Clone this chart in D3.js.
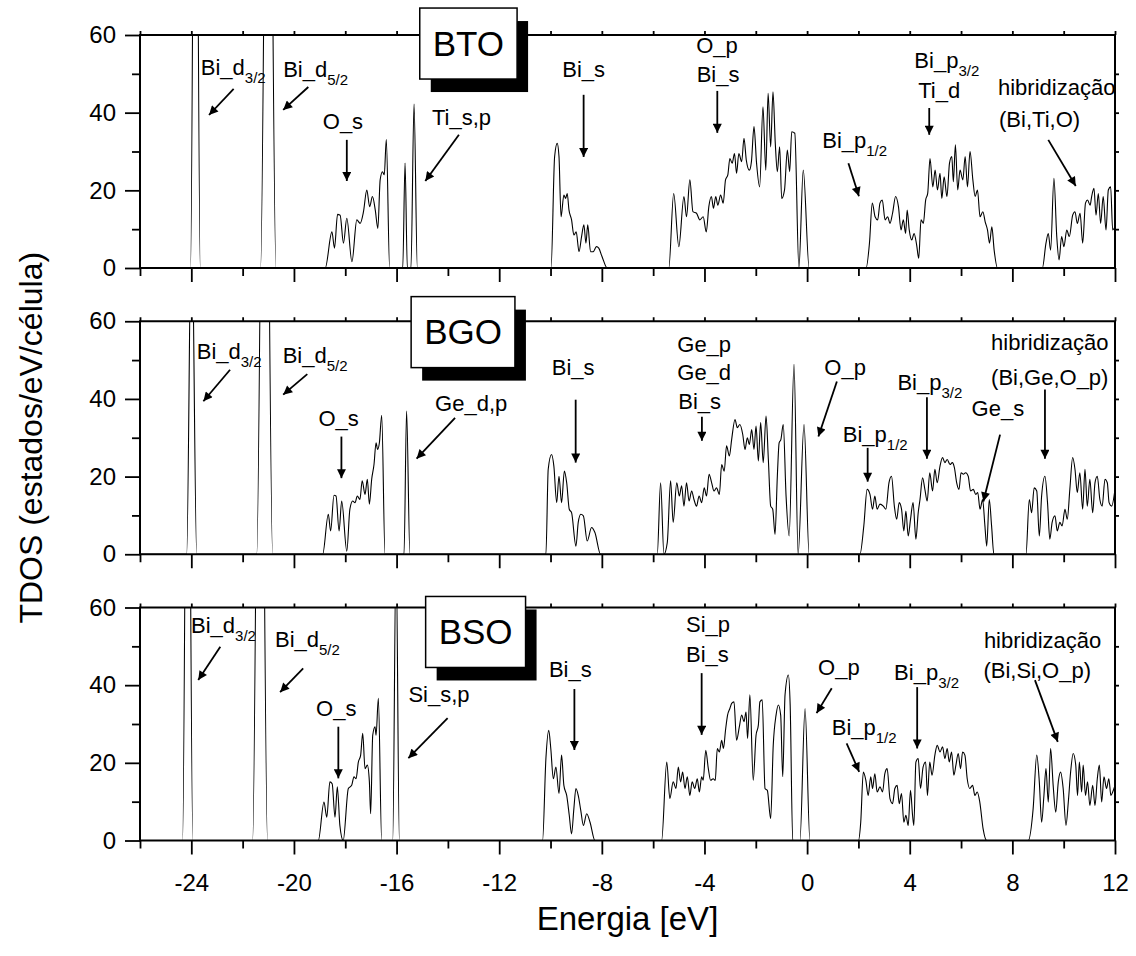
<!DOCTYPE html>
<html>
<head>
<meta charset="utf-8">
<script src="https://cdn.jsdelivr.net/npm/d3@7"></script>
<style>
  body { margin: 0; background: #fff; }
  text { font-family: "Liberation Sans", Arial, sans-serif; fill: #000; }
</style>
</head>
<body>
<div id="chart"></div>
<script>
// energia (eV), TDOS (estados/eV/célula)
const panelNames = ["BTO", "BGO", "BSO"];

const btoTDOS = [
  [-26,0],
  [-24.03,0],[-23.84,170],[-23.65,0],
  [-21.30,0],[-21.0,180],[-20.70,0],
  [-18.78,0],[-18.52,9.3],[-18.42,5.1],[-18.30,13.8],[-18.20,13.6],[-18.07,6.4],[-17.94,12.8],[-17.74,1.6],[-17.55,12.4],[-17.42,11.5],[-17.29,14.5],[-17.16,20.1],[-17.05,15.8],[-16.94,18.4],[-16.83,14.9],[-16.73,10.2],[-16.64,22.7],[-16.55,24.8],[-16.48,24],[-16.40,33.1],[-16.27,0],
  [-15.76,0],[-15.67,27],[-15.58,0],[-15.44,0],[-15.32,42.2],[-15.19,0],
  [-9.98,0],[-9.84,28.7],[-9.74,32.1],[-9.67,28.7],[-9.59,13.2],[-9.48,18.8],[-9.41,17.9],[-9.35,19.2],[-9.28,14.9],[-9.18,12.4],[-9.09,8.5],[-9.00,9.3],[-8.89,4.2],[-8.79,8.1],[-8.70,11.1],[-8.62,6.4],[-8.55,11.1],[-8.44,4.2],[-8.34,4.2],[-8.21,5.5],[-8.12,5.1],[-7.99,2.9],[-7.79,0],
  [-5.39,0],[-5.20,19.2],[-5.00,5.5],[-4.80,18.4],[-4.70,13.2],[-4.57,22.7],[-4.45,14.5],[-4.31,14.1],[-4.18,12.4],[-4.05,13.2],[-3.93,9.3],[-3.83,15.8],[-3.73,18.4],[-3.65,15.4],[-3.56,18.4],[-3.48,16.2],[-3.37,18.8],[-3.27,16.7],[-3.18,22.7],[-3.09,24],[-3.01,28.2],[-2.92,27],[-2.83,29.5],[-2.75,24.4],[-2.66,29.5],[-2.55,27.4],[-2.46,33.4],[-2.37,27.8],[-2.25,25.2],[-2.17,27.4],[-2.07,36.4],[-1.97,27],[-1.85,20.9],[-1.72,41.5],[-1.61,25.2],[-1.52,45],[-1.42,31.2],[-1.33,45.4],[-1.24,32.1],[-1.16,24.8],[-1.07,31.2],[-0.99,17.9],[-0.88,20.1],[-0.77,30.4],[-0.68,24.8],[-0.60,35.1],[-0.48,34.7],[-0.32,0],[-0.15,25.2],[0.08,0],
  [2.30,0],[2.43,6.4],[2.54,16.7],[2.65,13.2],[2.75,12.4],[2.84,16.7],[2.93,17.5],[3.04,12.4],[3.14,13.2],[3.23,11.5],[3.33,14.1],[3.45,18.4],[3.56,15.8],[3.66,9.8],[3.75,12.4],[3.84,8.9],[3.90,14.9],[3.98,9.8],[4.08,7.2],[4.17,8.9],[4.27,5.9],[4.35,2.5],[4.44,12.4],[4.53,11.5],[4.62,17.5],[4.70,19.2],[4.79,28.2],[4.90,20.9],[4.99,25.2],[5.08,20.1],[5.18,24.4],[5.25,17.9],[5.34,23.5],[5.45,18.4],[5.55,27],[5.64,28.7],[5.70,22.2],[5.78,31.7],[5.87,20.1],[5.96,25.2],[6.07,22.7],[6.16,28.7],[6.25,20.9],[6.35,30],[6.46,22.7],[6.55,18.4],[6.64,20.1],[6.74,13.2],[6.85,14.5],[6.94,11.9],[7.03,9.8],[7.11,6.4],[7.20,10.6],[7.29,4.6],[7.42,0],
  [9.17,0],[9.31,6.4],[9.40,8.9],[9.49,4.6],[9.62,23.1],[9.73,8.1],[9.82,2.1],[9.92,8.1],[10.01,5.5],[10.12,9.8],[10.22,8.1],[10.35,13.6],[10.44,14.5],[10.53,11.5],[10.64,14.1],[10.74,6.4],[10.85,16.7],[10.93,17.5],[11.03,16.2],[11.09,18.4],[11.18,20.5],[11.26,13.6],[11.35,19.2],[11.44,11.5],[11.54,18.4],[11.65,9.8],[11.74,20.1],[11.83,20.9],[11.91,9.8],[12.0,10.6]
];

const bgoTDOS = [
  [-26,0],
  [-24.18,0],[-23.99,90],[-23.79,0],
  [-21.45,0],[-21.14,180],[-20.83,0],
  [-18.88,0],[-18.66,10.3],[-18.57,6],[-18.44,15.2],[-18.36,15],[-18.24,6],[-18.14,13.7],[-17.94,0.8],[-17.82,11.6],[-17.71,13.7],[-17.62,13.3],[-17.53,15],[-17.43,14.1],[-17.34,18.9],[-17.23,15.4],[-17.14,19.3],[-17.06,12.9],[-16.97,19.3],[-16.88,23.1],[-16.80,28.7],[-16.74,27],[-16.67,28.7],[-16.58,35.8],[-16.45,0],
  [-15.71,0],[-15.61,36.9],[-15.48,0],
  [-10.18,0],[-10.09,21.9],[-9.96,25.7],[-9.87,22.7],[-9.76,13.3],[-9.67,20.1],[-9.57,13.3],[-9.46,21.4],[-9.37,18.4],[-9.27,11.6],[-9.18,10.7],[-9.01,2.1],[-8.92,8.2],[-8.82,10.3],[-8.72,9.9],[-8.57,3.4],[-8.40,6.9],[-8.27,5.6],[-8.05,0],
  [-5.84,0],[-5.71,18.4],[-5.58,0],[-5.45,3],[-5.32,18.9],[-5.22,8.2],[-5.08,18.4],[-4.98,15],[-4.89,17.6],[-4.80,12.4],[-4.70,18.4],[-4.60,13.7],[-4.50,16.3],[-4.41,14.1],[-4.31,12.4],[-4.21,15],[-4.11,13.3],[-4.01,17.1],[-3.92,15],[-3.82,20.6],[-3.72,18.4],[-3.63,16.3],[-3.53,17.1],[-3.42,15.4],[-3.33,23.1],[-3.23,21.4],[-3.14,27.9],[-3.03,25.3],[-2.94,29.6],[-2.81,34.7],[-2.72,32.6],[-2.62,33.4],[-2.51,30.9],[-2.42,27],[-2.33,30],[-2.25,28.3],[-2.16,32.1],[-2.07,27],[-1.99,33],[-1.90,24],[-1.81,33.9],[-1.71,23.6],[-1.60,35.6],[-1.51,24.4],[-1.42,12.4],[-1.34,11.6],[-1.25,5.1],[-1.16,20.1],[-1.09,28.7],[-1.02,29.6],[-0.93,33.4],[-0.82,15],[-0.70,4.7],[-0.51,48.9],[-0.35,0],[-0.12,33.4],[0.08,0],
  [2.06,0],[2.21,7.3],[2.34,16.7],[2.45,15.4],[2.55,11.6],[2.64,15],[2.73,11.6],[2.84,12.9],[2.97,12.4],[3.07,11.6],[3.19,18.4],[3.29,20.1],[3.40,12.4],[3.49,9],[3.59,13.3],[3.68,11.6],[3.77,6],[3.85,11.1],[3.94,4.7],[4.03,9],[4.13,13.3],[4.24,3.9],[4.33,10.7],[4.40,14.1],[4.50,19.7],[4.59,16.7],[4.68,13.7],[4.78,21],[4.89,16.3],[4.98,21.9],[5.07,18.4],[5.18,22.7],[5.28,24.9],[5.37,23.6],[5.46,24.4],[5.57,23.1],[5.66,23.6],[5.74,22.3],[5.83,18.4],[5.92,16.7],[6.00,21],[6.09,20.6],[6.18,21],[6.28,20.1],[6.37,16.3],[6.48,16.7],[6.57,15.4],[6.65,15.9],[6.74,11.6],[6.84,14.1],[6.93,7.3],[7.00,2.1],[7.10,14.1],[7.19,7.3],[7.28,0],
  [8.53,0],[8.66,14.1],[8.75,10.7],[8.85,17.1],[8.95,16.3],[9.05,4.7],[9.14,15],[9.27,20.1],[9.37,13.3],[9.46,3.9],[9.55,8.2],[9.66,9.9],[9.75,6],[9.85,8.2],[9.94,7.3],[10.05,11.6],[10.14,9],[10.24,16.7],[10.35,24.9],[10.44,21.9],[10.53,15.9],[10.63,21],[10.74,11.6],[10.83,21.9],[10.92,12.4],[11.02,19.3],[11.13,10.7],[11.22,18.4],[11.31,20.1],[11.41,14.1],[11.50,12.4],[11.61,19.3],[11.70,18.4],[11.77,13.3],[11.87,12.4],[12.0,16.7]
];

const bsoTDOS = [
  [-26,0],
  [-24.34,0],[-24.14,160],[-23.94,0],
  [-21.61,0],[-21.32,180],[-21.03,0],
  [-19.05,0],[-18.83,9.9],[-18.72,6],[-18.60,15.1],[-18.51,14.6],[-18.40,6],[-18.31,13.8],[-18.21,3.9],[-18.08,0],[-17.88,13.4],[-17.75,14.2],[-17.66,16.4],[-17.58,15.9],[-17.49,20.2],[-17.40,22],[-17.32,27.6],[-17.23,18.5],[-17.14,19.4],[-17.06,15.1],[-17.01,6.9],[-16.93,27.1],[-16.84,29.3],[-16.80,27.1],[-16.71,36.6],[-16.58,0],
  [-16.15,0],[-16.02,75],[-15.89,0],
  [-10.31,0],[-10.18,21.1],[-10.07,28.4],[-9.99,23.7],[-9.89,15.9],[-9.79,18.9],[-9.67,12.1],[-9.57,22],[-9.48,14.2],[-9.37,11.6],[-9.27,6.5],[-9.18,1.7],[-9.09,8.2],[-9.01,13.4],[-8.92,11.6],[-8.82,7.7],[-8.72,3.9],[-8.59,6.9],[-8.46,4.7],[-8.27,0],
  [-5.67,0],[-5.47,20.2],[-5.35,10.8],[-5.22,15.1],[-5.11,13.4],[-5.02,18.9],[-4.93,15.1],[-4.85,17.6],[-4.76,13.4],[-4.67,16.4],[-4.57,11.6],[-4.48,15.1],[-4.38,13.4],[-4.28,15.9],[-4.20,12.5],[-4.11,16.4],[-4.05,15.5],[-3.95,23.2],[-3.85,18.5],[-3.76,15.5],[-3.66,15.9],[-3.58,15.5],[-3.50,23.7],[-3.42,22.8],[-3.33,25.8],[-3.26,23.7],[-3.18,28.4],[-3.10,32.3],[-3.01,34],[-2.94,35.3],[-2.85,35.7],[-2.75,25.8],[-2.64,29.3],[-2.55,32.3],[-2.46,30.6],[-2.38,33.1],[-2.32,26.3],[-2.23,37.5],[-2.10,15.5],[-1.99,27.1],[-1.90,29.7],[-1.84,35.7],[-1.75,36.2],[-1.64,13.4],[-1.55,12.9],[-1.42,5.6],[-1.32,24.5],[-1.21,32.3],[-1.12,34.9],[-1.03,32.3],[-0.95,16.4],[-0.86,37.5],[-0.73,42.6],[-0.66,34.9],[-0.56,0],
  [-0.28,0],[-0.08,34],[0.11,0],
  [2.00,0],[2.09,4.7],[2.19,17.6],[2.29,15.5],[2.38,11.6],[2.48,16.4],[2.55,13.4],[2.64,17.2],[2.73,12.5],[2.84,13.8],[2.94,12.5],[3.03,17.2],[3.12,18.5],[3.23,10.8],[3.33,9.5],[3.42,13.4],[3.51,14.2],[3.59,9.5],[3.68,12.1],[3.77,4.7],[3.85,6.5],[3.94,3.9],[4.03,12.9],[4.11,6.5],[4.16,3.9],[4.24,20.2],[4.33,21.1],[4.42,13.4],[4.52,18.9],[4.62,20.2],[4.69,11.6],[4.78,20.2],[4.87,16.8],[4.98,22],[5.07,24.5],[5.18,22.8],[5.28,24.1],[5.37,21.1],[5.46,23.7],[5.54,20.2],[5.63,22.8],[5.72,16.8],[5.80,19.4],[5.89,22.4],[5.98,18.5],[6.06,22.8],[6.15,22],[6.24,15.9],[6.34,13.4],[6.45,14.2],[6.54,11.6],[6.63,12.5],[6.73,9.9],[6.86,3],[7.00,0],
  [8.62,0],[8.81,8.2],[8.95,22],[9.05,15.1],[9.14,4.7],[9.23,11.6],[9.31,18.5],[9.40,9.9],[9.49,23.7],[9.59,14.2],[9.69,7.3],[9.79,15.1],[9.88,17.6],[9.98,13.4],[10.09,3.9],[10.18,9.9],[10.27,17.6],[10.37,22.4],[10.47,19.4],[10.54,11.6],[10.61,20.2],[10.70,12.5],[10.76,19.4],[10.85,11.6],[10.93,15.1],[11.02,9],[11.13,14.2],[11.22,9],[11.31,15.9],[11.39,19.4],[11.48,9.9],[11.57,16.4],[11.67,13.4],[11.76,15.9],[11.84,11.6],[11.91,12.5],[12.0,14.2]
];

// ticks
const xMajor = [-24, -20, -16, -12, -8, -4, 0, 4, 8, 12];
const xMinor = [-26, -22, -18, -14, -10, -6, -2, 2, 6, 10];
const yMajor = [0, 20, 40, 60];
const yMinor = [10, 30, 50];
const yRight = [10, 20, 30, 40, 50];

// rótulos (posição em eV / estados)
const btoLabels = [
  {t:"Bi_d", s:"3/2", x:-23.63, y:49.7},
  {t:"Bi_d", s:"5/2", x:-20.42, y:49.3},
  {t:"O_s", x:-18.09, y:35.7, a:"middle"},
  {t:"Ti_s,p", x:-14.62, y:36.8},
  {t:"Bi_s", x:-8.71, y:49.3, a:"middle"},
  {t:"O_p", x:-3.51, y:55.3, a:"middle"},
  {t:"Bi_s", x:-3.47, y:47.8, a:"middle"},
  {t:"Bi_p", s:"1/2", x:0.59, y:30.8},
  {t:"Bi_p", s:"3/2", x:4.18, y:51.4},
  {t:"Ti_d", x:4.33, y:43.7},
  {t:"hibridização", x:7.44, y:44.6},
  {t:"(Bi,Ti,O)", x:7.48, y:36.4}
];
const btoArrows = [
  [-22.35,46.1,-23.31,39.4], [-19.44,46.6,-20.42,40.7], [-17.94,33.0,-17.94,22.4],
  [-13.57,34.3,-14.88,22.4], [-8.71,44.6,-8.71,28.6], [-3.50,45.6,-3.50,34.8],
  [1.61,27.0,2.02,18.5], [4.76,41.2,4.76,34.3], [9.40,33.0,10.47,21.1]
];

const bgoLabels = [
  {t:"Bi_d", s:"3/2", x:-23.79, y:50.3},
  {t:"Bi_d", s:"5/2", x:-20.44, y:49.2},
  {t:"O_s", x:-18.26, y:32.9, a:"middle"},
  {t:"Ge_d,p", x:-14.50, y:36.8},
  {t:"Bi_s", x:-9.12, y:46.2, a:"middle"},
  {t:"Ge_p", x:-5.06, y:52.2},
  {t:"Ge_d", x:-5.06, y:44.9},
  {t:"Bi_s", x:-5.02, y:37.5},
  {t:"O_p", x:1.48, y:46.2, a:"middle"},
  {t:"Bi_p", s:"1/2", x:1.39, y:29.0},
  {t:"Bi_p", s:"3/2", x:3.52, y:42.4},
  {t:"Ge_s", x:6.41, y:35.5},
  {t:"hibridização", x:7.17, y:52.7},
  {t:"(Bi,Ge,O_p)", x:7.17, y:43.7}
];
const bgoArrows = [
  [-22.49,47.5,-23.53,39.4], [-19.48,46.4,-20.42,41.1], [-18.15,30.3,-18.15,19.6],
  [-13.72,35.1,-15.22,24.6], [-9.02,39.8,-9.02,23.6], [-4.10,35.4,-4.10,29.2],
  [1.16,44.5,0.44,30.3], [2.36,27.4,2.36,18.7], [4.67,40.4,4.67,24.6],
  [7.52,30.8,6.87,13.6], [9.27,42.4,9.27,24.6]
];

const bsoLabels = [
  {t:"Bi_d", s:"3/2", x:-24.01, y:53.4},
  {t:"Bi_d", s:"5/2", x:-20.74, y:49.8},
  {t:"O_s", x:-18.35, y:32.1, a:"middle"},
  {t:"Si_s,p", x:-15.54, y:35.6},
  {t:"Bi_s", x:-9.23, y:42.2, a:"middle"},
  {t:"Si_p", x:-4.72, y:53.8},
  {t:"Bi_s", x:-4.72, y:46.0},
  {t:"O_p", x:1.24, y:42.6, a:"middle"},
  {t:"Bi_p", s:"1/2", x:0.96, y:27.2},
  {t:"Bi_p", s:"3/2", x:3.39, y:41.3},
  {t:"hibridização", x:6.89, y:49.5},
  {t:"(Bi,Si,O_p)", x:6.87, y:41.8}
];
const bsoArrows = [
  [-22.87,49.9,-23.73,41.3], [-19.64,44.3,-20.54,38.2], [-18.27,29.3,-18.27,16.0],
  [-14.01,31.5,-15.54,21.2], [-9.07,39.0,-9.07,23.3], [-4.11,43.1,-4.11,27.2],
  [0.96,39.2,0.37,32.8], [1.54,25.0,2.03,17.7], [4.29,39.5,4.29,23.7],
  [8.88,41.3,9.77,25.4]
];

// caixa com o nome do composto (centro em eV / estados)
const boxX = [-13.20, -13.41, -12.92];
const boxY = [57.8, 57.2, 53.7];

const series = [btoTDOS, bgoTDOS, bsoTDOS];
const labels = [btoLabels, bgoLabels, bsoLabels];
const arrows = [btoArrows, bgoArrows, bsoArrows];

var margin = {top: 35, left: 140},
    width = 975,
    ph = 233,
    step = 286.25;

var svg = d3.select("#chart")
  .append("svg")
    .attr("width", 1136)
    .attr("height", 956);

svg.append("defs").append("marker")
    .attr("id", "arrow")
    .attr("viewBox", "0 0 10 10")
    .attr("refX", 10).attr("refY", 5)
    .attr("markerWidth", 12).attr("markerHeight", 9)
    .attr("markerUnits", "userSpaceOnUse")
    .attr("orient", "auto")
  .append("path")
    .attr("d", "M0,0 L10,5 L0,10 z")
    .attr("fill", "#000");

var x = d3.scaleLinear().domain([-26, 12]).range([0, width]);
var y = d3.scaleLinear().domain([0, 60]).range([ph, 0]);

var line = d3.line()
    .x(d => x(d[0])).y(d => y(d[1]))
    .curve(d3.curveMonotoneX);

function cleanAxis(g, size) {
  g.select(".domain").remove();
  g.selectAll(".tick line").attr("stroke", "#000").attr("stroke-width", 1.8);
  g.selectAll(".tick text")
    .style("font-size", size + "px")
    .style("font-family", "'Liberation Sans', Arial, sans-serif")
    .attr("fill", "#000");
}

panelNames.forEach(function(name, i) {
  var g = svg.append("g")
      .attr("transform", "translate(" + margin.left + "," + (margin.top + i * step) + ")");

  g.append("clipPath").attr("id", "clip" + i)
    .append("rect").attr("width", width).attr("height", ph);

  // curva TDOS
  g.append("path")
      .datum(series[i])
      .attr("clip-path", "url(#clip" + i + ")")
      .attr("fill", "none")
      .attr("stroke", "#000")
      .attr("stroke-width", 1.1)
      .attr("d", line);

  // eixos
  var last = i === panelNames.length - 1;
  g.append("g").attr("transform", "translate(0," + ph + ")")
      .call(d3.axisBottom(x).tickValues(xMajor).tickSize(14).tickPadding(19)
        .tickFormat(last ? (d => String(d)) : ""))
      .call(a => cleanAxis(a, 24));
  g.append("g").attr("transform", "translate(0," + ph + ")")
      .call(d3.axisBottom(x).tickValues(xMinor).tickSize(8).tickFormat(""))
      .call(a => cleanAxis(a, 24));
  g.append("g")
      .call(d3.axisLeft(y).tickValues(yMajor).tickSize(15).tickPadding(9).tickFormat(d => String(d)))
      .call(a => cleanAxis(a, 24));
  g.append("g")
      .call(d3.axisLeft(y).tickValues(yMinor).tickSize(8).tickFormat(""))
      .call(a => cleanAxis(a, 24));
  g.append("g")
      .call(d3.axisTop(x).tickValues(xMajor.concat(xMinor)).tickSize(4).tickFormat(""))
      .call(a => cleanAxis(a, 24));
  g.append("g").attr("transform", "translate(" + width + ",0)")
      .call(d3.axisRight(y).tickValues(yRight).tickSize(4).tickFormat(""))
      .call(a => cleanAxis(a, 24));

  g.append("rect")
      .attr("width", width).attr("height", ph)
      .attr("fill", "none").attr("stroke", "#000").attr("stroke-width", 2);

  // setas
  g.selectAll(".arrow")
    .data(arrows[i])
    .enter().append("line")
      .attr("x1", d => x(d[0])).attr("y1", d => y(d[1]))
      .attr("x2", d => x(d[2])).attr("y2", d => y(d[3]))
      .attr("stroke", "#000").attr("stroke-width", 1.8)
      .attr("marker-end", "url(#arrow)");

  // rótulos
  labels[i].forEach(function(d) {
    var t = g.append("text")
        .attr("x", x(d.x)).attr("y", y(d.y))
        .attr("text-anchor", d.a || "start")
        .style("font-size", "22px")
        .text(d.t);
    if (d.s) t.append("tspan").attr("dy", 8).style("font-size", "15px").text(d.s);
  });

  // caixa do composto com sombra
  var bx = g.append("g");
  var bt = bx.append("text")
      .attr("x", x(boxX[i])).attr("y", y(boxY[i]) + 12)
      .attr("text-anchor", "middle")
      .style("font-size", "35px")
      .text(name);
  var bw = bt.node().getComputedTextLength() + 26, bh = 71;
  bx.insert("rect", "text")
      .attr("x", x(boxX[i]) - bw / 2 + 11).attr("y", y(boxY[i]) - bh / 2 + 13)
      .attr("width", bw).attr("height", bh).attr("fill", "#000");
  bx.insert("rect", "text")
      .attr("x", x(boxX[i]) - bw / 2).attr("y", y(boxY[i]) - bh / 2)
      .attr("width", bw).attr("height", bh)
      .attr("fill", "#fff").attr("stroke", "#000").attr("stroke-width", 1.5);
});

// títulos dos eixos
svg.append("text")
    .attr("transform", "translate(42," + (margin.top + step + ph / 2) + ") rotate(-90)")
    .attr("text-anchor", "middle")
    .style("font-size", "32px")
    .text("TDOS (estados/eV/célula)");

svg.append("text")
    .attr("x", margin.left + width / 2)
    .attr("y", 930)
    .attr("text-anchor", "middle")
    .style("font-size", "33px")
    .text("Energia [eV]");
</script>
</body>
</html>
